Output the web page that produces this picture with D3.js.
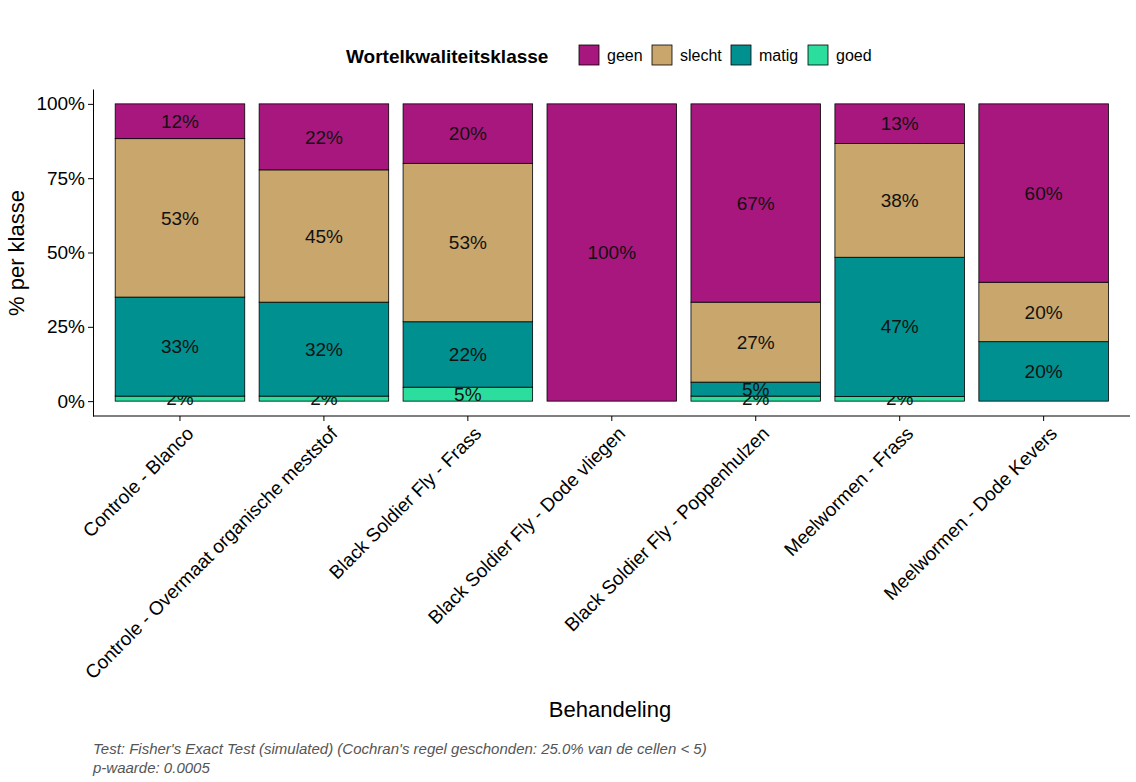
<!DOCTYPE html>
<html><head><meta charset="utf-8">
<script src="https://cdn.jsdelivr.net/npm/d3@7"></script>
<style>body{margin:0;background:#fff;font-family:Arial,"Liberation Sans",sans-serif;}</style>
</head><body><svg id="chart"></svg>
<script>
var categories = ["Controle - Blanco", "Controle - Overmaat organische meststof", "Black Soldier Fly - Frass",
  "Black Soldier Fly - Dode vliegen", "Black Soldier Fly - Poppenhulzen", "Meelwormen - Frass", "Meelwormen - Dode Kevers"];
var classes = ["goed", "matig", "slecht", "geen"];
var goed   = [1.7, 1.7, 4.7, 0, 1.7, 1.6, 0];
var matig  = [33.3, 31.6, 22.0, 0, 4.7, 46.8, 20];
var slecht = [53.3, 44.5, 53.3, 0, 26.9, 38.3, 20];
var geen   = [11.7, 22.2, 20.0, 100, 66.7, 13.3, 60];
var colors = {geen: "#A8177E", slecht: "#C9A66B", matig: "#009090", goed: "#2BDE9E"};
var yTicks = [0, 25, 50, 75, 100];

function runScript() {
  var width = 1136, height = 782;
  var svg = d3.select("#chart").attr("width", width).attr("height", height);
  var series = {goed: goed, matig: matig, slecht: slecht, geen: geen};

  var x = d3.scaleBand().domain(categories).range([93.6, 1130]).paddingInner(0.1).paddingOuter(0.15);
  var y = d3.scaleLinear().domain([-5, 105]).range([416, 89]);

  // stacked segments
  categories.forEach(function (c, i) {
    var base = 0;
    classes.forEach(function (k) {
      var v = series[k][i];
      if (v <= 0) return;
      svg.append("rect")
        .attr("x", x(c)).attr("width", x.bandwidth())
        .attr("y", y(base + v)).attr("height", y(base) - y(base + v))
        .attr("fill", colors[k]).attr("stroke", "#000").attr("stroke-width", 0.8);
      svg.append("text")
        .attr("x", x(c) + x.bandwidth() / 2).attr("y", y(base + v / 2))
        .attr("dy", "0.35em").attr("text-anchor", "middle")
        .attr("font-size", 19).attr("fill", "#111")
        .text(Math.round(v) + "%");
      base += v;
    });
  });

  // axes
  var yAxis = svg.append("g").attr("transform", "translate(93,0)")
    .call(d3.axisLeft(y).tickValues(yTicks).tickFormat(function (d) { return d + "%"; }).tickSize(5).tickSizeOuter(0));
  yAxis.select(".domain").attr("stroke", "#000");
  yAxis.selectAll("text").attr("font-size", 19).attr("fill", "#000").attr("font-family", "Arial, Liberation Sans");
  var xAxis = svg.append("g").attr("transform", "translate(0,416)")
    .call(d3.axisBottom(x).tickSize(5).tickSizeOuter(0));
  xAxis.select(".domain").attr("stroke", "#000").attr("d", "M93,0H1130");
  xAxis.selectAll("text").attr("font-size", 19).attr("fill", "#000").attr("font-family", "Arial, Liberation Sans")
    .attr("text-anchor", "end").attr("transform", "translate(10,14) rotate(-45)").attr("dy", "0.35em").attr("y", 0);

  svg.append("text").attr("transform", "translate(24,253) rotate(-90)").attr("text-anchor", "middle")
    .attr("font-size", 22).text("% per klasse");
  svg.append("text").attr("x", 610).attr("y", 717).attr("text-anchor", "middle")
    .attr("font-size", 22).text("Behandeling");

  // legend
  svg.append("text").attr("x", 346).attr("y", 63).attr("font-size", 19).attr("font-weight", "bold").text("Wortelkwaliteitsklasse");
  var legendItems = [["geen", 579], ["slecht", 652], ["matig", 731], ["goed", 808]];
  legendItems.forEach(function (l) {
    svg.append("rect").attr("x", l[1]).attr("y", 45).attr("width", 20).attr("height", 20)
      .attr("fill", colors[l[0]]).attr("stroke", "#000").attr("stroke-width", 0.8);
    svg.append("text").attr("x", l[1] + 28).attr("y", 61).attr("font-size", 16).text(l[0]);
  });

  // caption
  svg.append("text").attr("x", 93).attr("y", 754).attr("font-size", 15).attr("font-style", "italic").attr("fill", "#555")
    .text("Test: Fisher's Exact Test (simulated) (Cochran's regel geschonden: 25.0% van de cellen < 5)");
  svg.append("text").attr("x", 93).attr("y", 773).attr("font-size", 15).attr("font-style", "italic").attr("fill", "#555")
    .text("p-waarde: 0.0005");
}
window.onload = runScript;
</script></body></html>
